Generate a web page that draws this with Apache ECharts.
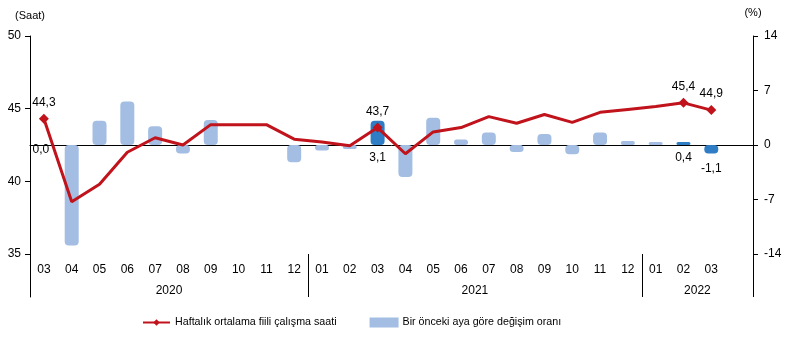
<!DOCTYPE html>
<html>
<head>
<meta charset="utf-8">
<script src="https://cdn.jsdelivr.net/npm/echarts@6/dist/echarts.min.js"></script>
<style>
  html, body { margin: 0; padding: 0; background: #fff; }
  #chart { width: 787px; height: 342px; }
</style>
</head>
<body>
<div id="chart"></div>
<script>
// Months shown on the axis (last slot is an empty spacer inside 2022)
const months = ['03','04','05','06','07','08','09','10','11','12',
                '01','02','03','04','05','06','07','08','09','10','11','12',
                '01','02','03',''];
// Years and how many month slots each one spans
const years = ['2020', '2021', '2022'];
const yearSlots = [10, 12, 4];

// Average weekly actual working hours (Saat)
const hours = [44.3, 38.6, 39.8, 42.0, 43.0, 42.5, 43.9, 43.9, 43.9, 42.9,
               42.7, 42.45, 43.7, 41.9, 43.4, 43.7, 44.45, 44.0, 44.6, 44.06, 44.75, 44.95,
               45.15, 45.4, 44.9, null];
// Change compared with the previous month (%)
const change = [0.0, -12.9, 3.1, 5.6, 2.4, -1.1, 3.2, 0.0, 0.0, -2.2,
                -0.7, -0.5, 3.1, -4.1, 3.5, 0.7, 1.6, -0.9, 1.4, -1.2, 1.6, 0.5,
                0.4, 0.4, -1.1, null];

// Months whose values are written on the chart
const labelledHours = [0, 12, 23, 24];
const highlightedChange = [12, 23, 24];
const labelledChange = [0, 12, 23, 24];

const FONT = '"Liberation Sans", Arial, sans-serif';
const RED = '#C0131B';
const LIGHT = '#A4BEE3';
const DARK = '#2E7DC5';

const fmt = v => v.toFixed(1).replace('.', ',');

// Year axis positions: group boundaries (separator ticks) and group centres (names)
const boundaries = [0];
yearSlots.forEach(n => boundaries.push(boundaries[boundaries.length - 1] + n));
const yearCentres = years.map((y, i) => (boundaries[i] + boundaries[i + 1]) / 2);

const hourData = hours.map((v, i) => {
  if (v === null) return null;
  if (labelledHours.includes(i)) {
    return { value: v, symbol: 'diamond', symbolSize: 10,
             label: { show: true, formatter: p => fmt(p.value) } };
  }
  return { value: v, symbol: 'none' };
});

const changeData = change.map((v, i) => {
  if (v === null) return null;
  const item = { value: v };
  if (highlightedChange.includes(i)) {
    item.itemStyle = { color: DARK, borderColor: DARK };
  }
  if (v === 0) {
    // a zero change draws no visible bar
    item.itemStyle = { borderWidth: 0 };
  }
  if (labelledChange.includes(i)) {
    item.label = { show: true, position: 'bottom', distance: v < 0 ? 9 : 7,
                   formatter: p => fmt(p.value) };
    if (i === 0) {
      item.label.position = 'inside';
      item.label.offset = [-3, 5];
    }
  }
  return item;
});

const chart = echarts.init(document.getElementById('chart'), null, { renderer: 'canvas' });
chart.setOption({
  animation: false,
  backgroundColor: '#fff',
  textStyle: { fontFamily: FONT, color: '#000' },
  grid: [
    { left: 30, right: 34, top: 36, bottom: 88, containLabel: false },
    // strip under the plot that holds the month / year labels
    { left: 30, right: 34, top: 254, bottom: 45, containLabel: false }
  ],
  legend: {
    left: 137,
    bottom: 9,
    itemWidth: 27,
    itemHeight: 8,
    itemGap: 33,
    textStyle: { fontFamily: FONT, fontSize: 10.7, color: '#000' },
    data: [
      { name: 'Haftalık ortalama fiili çalışma saati' },
      { name: 'Bir önceki aya göre değişim oranı', icon: 'rect' }
    ]
  },
  xAxis: [
    {
      type: 'category',
      gridIndex: 0,
      data: months,
      position: 'bottom',
      boundaryGap: true,
      axisLine: { show: true, lineStyle: { color: '#000', width: 1 } },
      axisTick: { show: false },
      axisLabel: { interval: 0, margin: 10, fontSize: 12, color: '#000', fontFamily: FONT },
      splitLine: { show: false }
    },
    {
      type: 'value',
      gridIndex: 0,
      min: 0,
      max: months.length,
      position: 'bottom',
      axisLine: { show: false },
      axisTick: {
        show: true,
        length: 43,
        customValues: boundaries,
        lineStyle: { color: '#000', width: 1 }
      },
      axisLabel: {
        show: true,
        customValues: yearCentres,
        formatter: v => years[yearCentres.indexOf(v)] || '',
        margin: 31, fontSize: 12, color: '#000', fontFamily: FONT
      },
      splitLine: { show: false }
    },
    {
      type: 'value',
      gridIndex: 1,
      min: 0,
      max: months.length,
      show: false
    }
  ],
  yAxis: [
    {
      type: 'value',
      gridIndex: 0,
      min: 35, max: 50, interval: 5,
      position: 'left',
      name: '(Saat)',
      nameLocation: 'end',
      nameGap: 15,
      nameTextStyle: { fontSize: 11, color: '#000', fontFamily: FONT, align: 'center' },
      axisLine: { show: true, lineStyle: { color: '#000', width: 1 } },
      axisTick: { show: true, length: 5, lineStyle: { color: '#000' } },
      axisLabel: { margin: 9, fontSize: 12, color: '#000', fontFamily: FONT },
      splitLine: { show: false }
    },
    {
      type: 'value',
      gridIndex: 0,
      min: -14, max: 14, interval: 7,
      position: 'right',
      name: '(%)',
      nameLocation: 'end',
      nameGap: 18,
      nameTextStyle: { fontSize: 11, color: '#000', fontFamily: FONT, align: 'center' },
      axisLine: { show: true, lineStyle: { color: '#000', width: 1 } },
      axisTick: { show: true, length: 5, lineStyle: { color: '#000' } },
      axisLabel: { margin: 11, fontSize: 12, color: '#000', fontFamily: FONT },
      splitLine: { show: false }
    },
    {
      // closing edge of the label strip on the right
      type: 'value',
      gridIndex: 1,
      position: 'right',
      min: 0, max: 1,
      axisLine: { show: true, lineStyle: { color: '#000', width: 1 } },
      axisTick: { show: false },
      axisLabel: { show: false },
      splitLine: { show: false }
    }
  ],
  series: [
    {
      name: 'Bir önceki aya göre değişim oranı',
      type: 'bar',
      xAxisIndex: 0,
      yAxisIndex: 1,
      data: changeData,
      barWidth: 14,
      itemStyle: { color: LIGHT, borderColor: LIGHT, borderWidth: 2, borderRadius: 3 },
      label: { show: false, fontSize: 12, color: '#000', fontFamily: FONT },
      z: 2
    },
    {
      name: 'Haftalık ortalama fiili çalışma saati',
      type: 'line',
      xAxisIndex: 0,
      yAxisIndex: 0,
      data: hourData,
      symbol: 'diamond',
      symbolSize: 10,
      showSymbol: true,
      connectNulls: false,
      lineStyle: { color: RED, width: 3 },
      itemStyle: { color: RED },
      label: { show: false, position: 'top', distance: 5, fontSize: 12, color: '#000', fontFamily: FONT },
      z: 3
    }
  ]
});
</script>
</body>
</html>
